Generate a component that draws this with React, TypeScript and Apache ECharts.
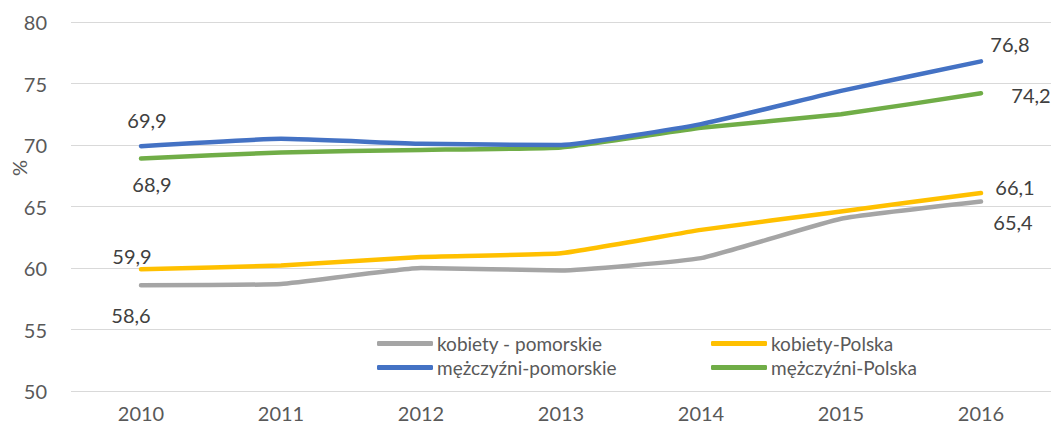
import React, { useEffect, useRef } from "react";
import * as echarts from "echarts";

const categories = ["2010", "2011", "2012", "2013", "2014", "2015", "2016"];
const kobietyPomorskie = [58.6, 58.7, 60.0, 59.8, 60.8, 64.0, 65.4];
const kobietyPolska = [59.9, 60.2, 60.9, 61.2, 63.1, 64.6, 66.1];
const mezczyzniPomorskie = [69.9, 70.5, 70.1, 70.0, 71.7, 74.4, 76.8];
const mezczyzniPolska = [68.9, 69.4, 69.6, 69.8, 71.4, 72.5, 74.2];
const seriesNames = ["kobiety - pomorskie", "kobiety-Polska", "mężczyźni-pomorskie", "mężczyźni-Polska"];
const colors = ["#A5A5A5", "#FFC000", "#4472C4", "#70AD47"];
// label offsets [first, last] for each series
const labelOffsets: number[][][] = [
  [[-10, 30], [32, 20]],
  [[-9, -13], [34, -6]],
  [[6, -26], [29, -17]],
  [[11, 25], [50, 2]],
];

const FONT = "Lato, 'Open Sans', sans-serif";
const TXT = "#595959";

export default function App() {
  const ref = useRef<HTMLDivElement>(null);
  useEffect(() => {
    if (!ref.current) return;
    const chart = echarts.init(ref.current, undefined, { renderer: "svg" });
    const all = [kobietyPomorskie, kobietyPolska, mezczyzniPomorskie, mezczyzniPolska];
    const series = all.map((vals, si) => ({
      name: seriesNames[si],
      type: "line",
      smooth: 0.12,
      symbol: "circle",
      symbolSize: 1,
      showSymbol: true,
      lineStyle: { color: colors[si], width: 4.5, cap: "round", join: "round" },
      itemStyle: { color: colors[si] },
      z: si === 2 ? 4 : si === 3 ? 3 : 2,
      data: vals.map((v, i) => {
        const isFirst = i === 0;
        const isLast = i === vals.length - 1;
        if (!isFirst && !isLast) return { value: v, label: { show: false } };
        const off = labelOffsets[si][isFirst ? 0 : 1];
        return {
          value: v,
          label: {
            show: true,
            position: "inside",
            offset: off,
            align: "center",
            verticalAlign: "middle",
            formatter: (p: any) => String(p.value).replace(".", ","),
            color: "#404040",
            fontSize: 20,
            fontFamily: FONT,
          },
        };
      }),
    }));
    const legendBase = {
      orient: "vertical",
      top: 334,
      padding: 0,
      itemWidth: 56,
      itemHeight: 5,
      itemGap: 5,
      icon: "roundRect",
      textStyle: { color: TXT, fontSize: 19, fontFamily: FONT, padding: [0, 0, 0, -1] },
    };
    chart.setOption({
      animation: false,
      backgroundColor: "#ffffff",
      grid: { left: 71, right: 3, top: 22, bottom: 38 },
      legend: [
        { ...legendBase, data: [seriesNames[0], seriesNames[2]], left: 377 },
        { ...legendBase, data: [seriesNames[1], seriesNames[3]], left: 711 },
      ],
      xAxis: {
        type: "category",
        data: categories,
        boundaryGap: true,
        axisLine: { show: false },
        axisTick: { show: false },
        axisLabel: { color: TXT, fontSize: 20, fontFamily: FONT, margin: 12 },
      },
      yAxis: {
        type: "value",
        min: 50,
        max: 80,
        interval: 5,
        axisLine: { show: false },
        axisTick: { show: false },
        splitLine: { lineStyle: { color: "#d9d9d9", width: 1 } },
        axisLabel: { color: TXT, fontSize: 20, fontFamily: FONT, margin: 24 },
      },
      graphic: [
        {
          type: "text",
          x: 19,
          y: 168,
          rotation: Math.PI / 2,
          style: {
            text: "%",
            fill: TXT,
            fontSize: 20,
            fontFamily: FONT,
            align: "center",
            verticalAlign: "middle",
          },
        },
      ],
      series,
    });
    return () => chart.dispose();
  }, []);
  return (
    <div
      ref={ref}
      style={{ position: "fixed", left: 0, top: 0, width: 1054, height: 429, background: "#fff" }}
    />
  );
}
